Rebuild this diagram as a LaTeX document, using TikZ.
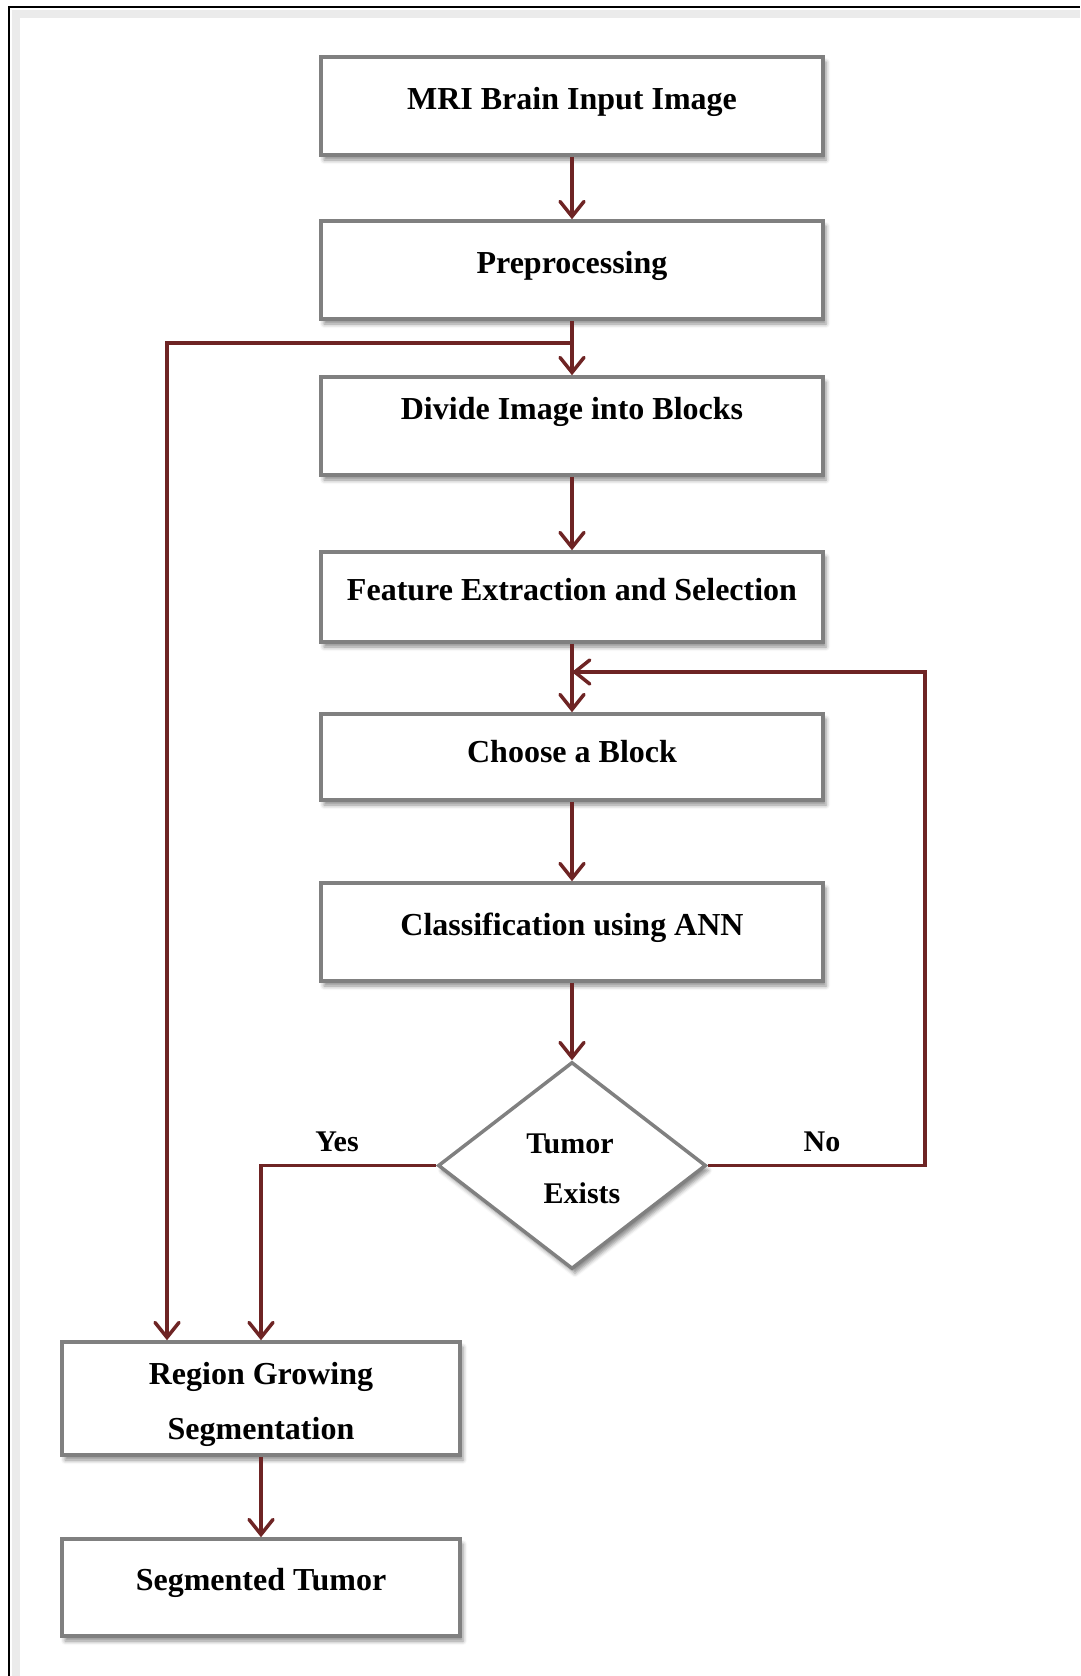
\documentclass[tikz,border=0pt]{standalone}
\usepackage{fontspec}
\setmainfont{Liberation Serif}
\usetikzlibrary{arrows.meta,shapes.geometric,shadows.blur,calc}
\definecolor{conncol}{HTML}{6E2424}
\definecolor{boxcol}{HTML}{808080}
\tikzset{
  boxnode/.style={draw=boxcol, line width=3.5pt, fill=white, rectangle, inner sep=0pt,
    blur shadow={shadow xshift=3pt, shadow yshift=-5pt, shadow blur radius=4pt, shadow opacity=45}},
  decnode/.style={draw=boxcol, line width=3.5pt, fill=white, diamond, inner sep=0pt,
    minimum width=268pt, minimum height=207pt,
    blur shadow={shadow xshift=3pt, shadow yshift=-5pt, shadow blur radius=4pt, shadow opacity=45}},
  lbl/.style={anchor=base, inner sep=0pt, font=\fontsize{32}{38}\selectfont\bfseries},
  slbl/.style={anchor=base, inner sep=0pt, font=\fontsize{30}{36}\selectfont\bfseries},
  conn/.style={draw=conncol, line width=3.5pt, -{Straight Barb[length=15pt,width=24pt,line cap=round]}},
  plainconn/.style={draw=conncol, line width=3.5pt}
}
\begin{document}
\begin{tikzpicture}[x=1pt,y=-1pt]
\useasboundingbox (0,0) rectangle (1080,1676);
% frame
\draw[black!8, line width=8pt] (16,1676) -- (16,14) -- (1080,14);
\draw[black, line width=2.5pt] (9,1676) -- (9,7) -- (1080,7);
% boxes
\node[boxnode, minimum width=502pt, minimum height=98pt] (mri) at (572,106) {};
\node[boxnode, minimum width=502pt, minimum height=98pt] (pre) at (572,270) {};
\node[boxnode, minimum width=502pt, minimum height=98pt] (div) at (572,426) {};
\node[boxnode, minimum width=502pt, minimum height=90pt] (feat) at (572,597) {};
\node[boxnode, minimum width=502pt, minimum height=86pt] (cho) at (572,757) {};
\node[boxnode, minimum width=502pt, minimum height=98pt] (cls) at (572,932) {};
\node[decnode] (dia) at (572,1165.5) {};
\node[boxnode, minimum width=398pt, minimum height=113pt] (reg) at (261,1398.5) {};
\node[boxnode, minimum width=398pt, minimum height=97pt] (seg) at (261,1587.5) {};
% texts
\node[lbl] (mriT) at (572,109) {MRI Brain Input Image};
\node[lbl] (preT) at (572,273) {Preprocessing};
\node[lbl] (divT) at (572,419) {Divide Image into Blocks};
\node[lbl] (featT) at (572,600) {Feature Extraction and Selection};
\node[lbl] (choT) at (572,762) {Choose a Block};
\node[lbl] (clsT) at (572,935) {Classification using ANN};
\node[slbl] (diaT1) at (570,1153) {Tumor};
\node[slbl] (diaT2) at (582,1203) {Exists};
\node[lbl] (regT1) at (261,1384) {Region Growing};
\node[lbl] (regT2) at (261,1439) {Segmentation};
\node[lbl] (segT) at (261,1590) {Segmented Tumor};
\node[slbl] (yes) at (337,1151) {Yes};
\node[slbl] (no) at (822,1151) {No};
% helper coordinates
\coordinate (split) at (572,343);
\coordinate (leftX) at (167,343);
\coordinate (loopR) at (925,672);
% connectors
\draw[conn] (mri.south) -- (pre.north);
\draw[conn] (pre.south) -- (div.north);
\draw[conn] (split) -- (leftX) -- (leftX |- reg.north);
\draw[conn] (div.south) -- (feat.north);
\draw[conn] (feat.south) -- (cho.north);
\draw[conn] (cho.south) -- (cls.north);
\draw[conn] (cls.south) -- (dia.north);
\draw[conn] (dia.east) -| (loopR) -- (feat.south |- loopR);
\draw[conn] (dia.west) -| (reg.north);
\draw[conn] (reg.south) -- (seg.north);
\end{tikzpicture}
\end{document}
